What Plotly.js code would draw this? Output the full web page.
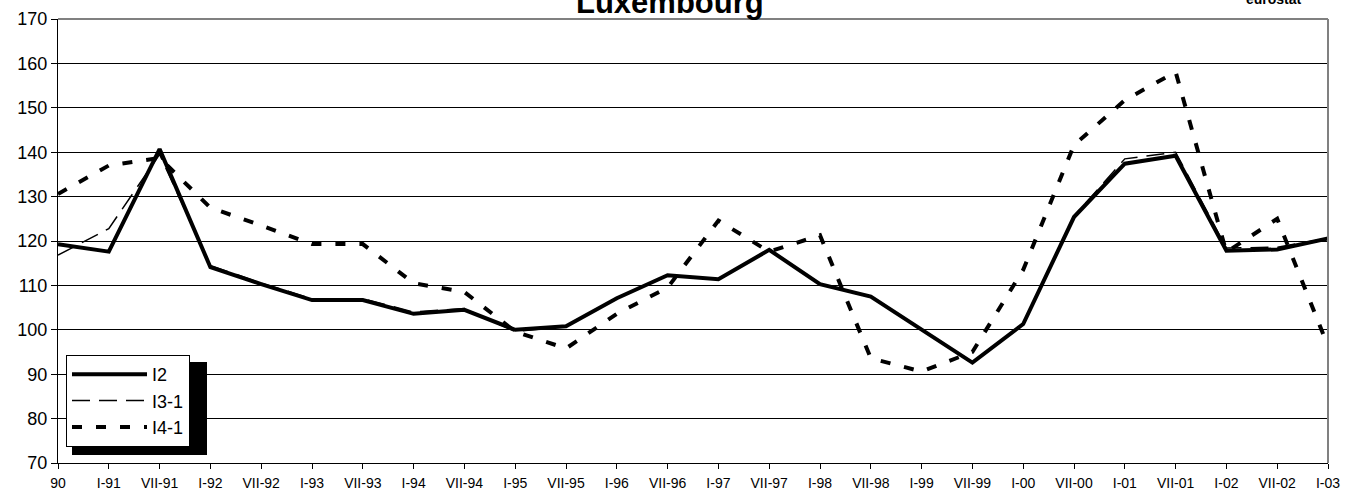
<!DOCTYPE html>
<html>
<head>
<meta charset="utf-8">
<script src="https://cdn.plot.ly/plotly-3.0.1.min.js"></script>
<style>html,body{margin:0;padding:0;background:#fff;}#chart{width:1356px;height:492px;}</style>
</head>
<body>
<div id="chart"></div>
<script>
const periods = ["90","I-91","VII-91","I-92","VII-92","I-93","VII-93","I-94","VII-94","I-95","VII-95","I-96","VII-96","I-97","VII-97","I-98","VII-98","I-99","VII-99","I-00","VII-00","I-01","VII-01","I-02","VII-02","I-03"];
const seriesNames = ["I2","I3-1","I4-1"];
const i2   = [119.3,117.6,140.7,114.1,110.3,106.7,106.7,103.6,104.5,100.0,100.8,107.1,112.3,111.4,118.0,110.3,107.5,100.0,92.6,101.3,125.4,137.4,139.2,117.8,118.1,120.6];
const i3_1 = [116.8,122.8,139.5,114.5,110.5,107.0,107.0,104.0,104.8,99.6,100.8,107.1,112.3,111.4,118.0,110.3,107.5,100.0,92.6,101.3,125.6,138.5,140.0,118.4,118.6,120.6];
const i4_1 = [130.6,137.0,138.7,127.5,123.5,119.3,119.3,110.5,108.5,99.6,95.8,103.6,109.5,124.6,117.6,121.3,93.6,90.6,95.0,113.5,141.6,151.7,158.1,117.5,125.0,96.3];
const yTicks = [70,80,90,100,110,120,130,140,150,160,170];

const W = 1356, H = 492;
const L = 58, R = 1328, T = 19, B = 463;
const pw = R - L, ph = B - T;

const traces = [
  {x: periods, y: i2, name: seriesNames[0], mode: 'lines', line: {color: '#000', width: 4}},
  {x: periods, y: i3_1, name: seriesNames[1], mode: 'lines', line: {color: '#000', width: 1.5, dash: '18px,9px'}},
  {x: periods, y: i4_1, name: seriesNames[2], mode: 'lines', line: {color: '#000', width: 4, dash: '10px,14px'}}
];

const layout = {
  width: W, height: H,
  margin: {l: L, r: W - R, t: T, b: H - B, pad: 0},
  paper_bgcolor: '#fff', plot_bgcolor: '#fff',
  font: {family: 'Liberation Sans, Arial, sans-serif', color: '#000'},
  showlegend: true,
  legend: {
    x: (66 - L) / pw, y: (B - 355) / ph, xanchor: 'left', yanchor: 'top',
    bgcolor: '#fff', bordercolor: '#000', borderwidth: 1,
    font: {size: 18, color: '#000'}, itemwidth: 75, tracegroupgap: 0
  },
  xaxis: {
    type: 'category', range: [0, periods.length - 1],
    showgrid: false, zeroline: false,
    showline: true, linecolor: '#000', linewidth: 1,
    ticks: 'outside', ticklen: 5, tickcolor: '#000', tickwidth: 1,
    tickfont: {size: 14, color: '#000'}, tickangle: 0, ticklabelstandoff: 2
  },
  yaxis: {
    range: [70, 170], tickvals: yTicks, ticktext: yTicks.map(String),
    showgrid: true, gridcolor: '#000', gridwidth: 1, zeroline: false,
    showline: true, linecolor: '#000', linewidth: 1,
    ticks: 'outside', ticklen: 6, tickcolor: '#000', tickwidth: 1,
    tickfont: {size: 18, color: '#000'}
  },
  shapes: [
    {type: 'line', xref: 'paper', yref: 'paper', x0: 0, x1: 1, y0: 1, y1: 1, line: {color: '#808080', width: 2}},
    {type: 'line', xref: 'paper', yref: 'paper', x0: 1, x1: 1, y0: 0, y1: 1, line: {color: '#808080', width: 2}},
    {type: 'rect', xref: 'paper', yref: 'paper',
     x0: (72 - L) / pw, x1: (207 - L) / pw, y0: (B - 455) / ph, y1: (B - 362) / ph,
     fillcolor: '#000', line: {width: 0}, layer: 'above'}
  ],
  annotations: [
    {text: '<b>Luxembourg</b>', xref: 'paper', yref: 'paper', x: (670 - L) / pw, y: (B - 2) / ph,
     xanchor: 'center', yanchor: 'middle', showarrow: false, font: {size: 31, color: '#000'}},
    {text: '<b>eurostat</b>', xref: 'paper', yref: 'paper', x: (1274 - L) / pw, y: (B + 1) / ph,
     xanchor: 'center', yanchor: 'middle', showarrow: false, font: {size: 14, color: '#000'}}
  ]
};

Plotly.newPlot('chart', traces, layout, {displayModeBar: false, staticPlot: true});
</script>
</body>
</html>
